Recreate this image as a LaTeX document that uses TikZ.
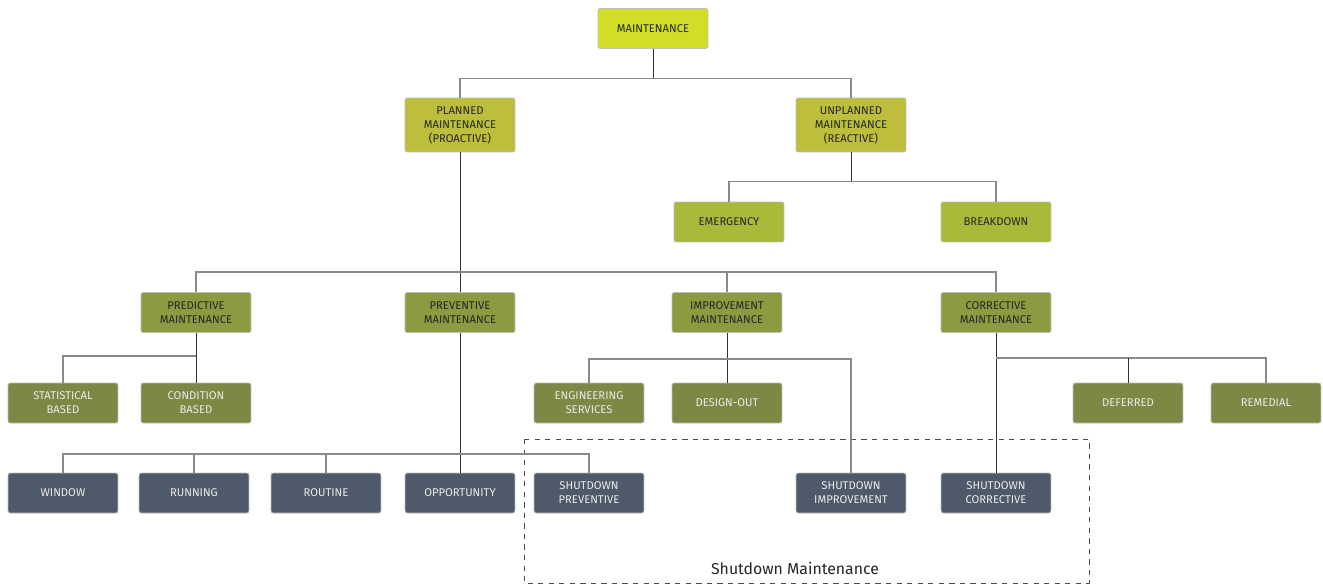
\documentclass[tikz,border=0pt]{standalone}
\usepackage{fontspec}
\setmainfont{Fira Sans}
\definecolor{cTop}{HTML}{D2DE25}
\definecolor{cOne}{HTML}{BDBE3B}
\definecolor{cTwo}{HTML}{A9BA3A}
\definecolor{cThree}{HTML}{8E9A3F}
\definecolor{cFour}{HTML}{7E8743}
\definecolor{cFive}{HTML}{4E5A69}
\definecolor{cStem}{HTML}{333333}
\definecolor{cBranch}{HTML}{8A8A8A}
\tikzset{
  box/.style={draw=black!25, line width=0.4pt, rounded corners=1.2pt,
    minimum width=2.2cm, minimum height=0.8cm, align=center,
    inner sep=1pt, font=\fontsize{6.4}{8}\selectfont},
  topbox/.style={box, fill=cTop, text=black!85},
  onebox/.style={box, fill=cOne, text=black!85, minimum height=1.08cm},
  twobox/.style={box, fill=cTwo, text=black!85},
  threebox/.style={box, fill=cThree, text=black!85},
  fourbox/.style={box, fill=cFour, text=white!92!black},
  fivebox/.style={box, fill=cFive, text=white!92!black},
  stem/.style={draw=cStem, line width=0.45pt},
  branch/.style={draw=cBranch, line width=0.7pt},
}
\begin{document}
\begin{tikzpicture}[x=0.02cm, y=-0.02cm]
  \useasboundingbox (0,0) rectangle (1323,585);

  % Shutdown frame
  \draw[dashed, draw=black!70, line width=0.5pt] (524,439) rectangle (1089,583);
  \node[font=\fontsize{9}{11}\selectfont, text=black!85] (sdlabel) at (795,568) {Shutdown Maintenance};

  % Level 0 and 1
  \node[topbox] (maint) at (653,28.5) {MAINTENANCE};
  \node[onebox] (plan) at (460,125) {PLANNED\\MAINTENANCE\\(PROACTIVE)};
  \node[onebox] (unplan) at (851,125) {UNPLANNED\\MAINTENANCE\\(REACTIVE)};

  % Reactive branch
  \node[twobox] (emer) at (729,222) {EMERGENCY};
  \node[twobox] (brk) at (996,222) {BREAKDOWN};

  % Proactive branch
  \node[threebox] (pred) at (196,312.5) {PREDICTIVE\\MAINTENANCE};
  \node[threebox] (prev) at (460,312.5) {PREVENTIVE\\MAINTENANCE};
  \node[threebox] (impr) at (727,312.5) {IMPROVEMENT\\MAINTENANCE};
  \node[threebox] (corr) at (996,312.5) {CORRECTIVE\\MAINTENANCE};

  \node[fourbox] (stat) at (63,403) {STATISTICAL\\BASED};
  \node[fourbox] (cond) at (196,403) {CONDITION\\BASED};
  \node[fourbox] (eng) at (589,403) {ENGINEERING\\SERVICES};
  \node[fourbox] (design) at (727,403) {DESIGN-OUT};
  \node[fourbox] (defer) at (1128,403) {DEFERRED};
  \node[fourbox] (remed) at (1266,403) {REMEDIAL};

  \node[fivebox] (win) at (63,493) {WINDOW};
  \node[fivebox] (run) at (194,493) {RUNNING};
  \node[fivebox] (rout) at (326,493) {ROUTINE};
  \node[fivebox] (opp) at (460,493) {OPPORTUNITY};
  \node[fivebox] (sdprev) at (589,493) {SHUTDOWN\\PREVENTIVE};
  \node[fivebox] (sdimpr) at (851,493) {SHUTDOWN\\IMPROVEMENT};
  \node[fivebox] (sdcorr) at (996,493) {SHUTDOWN\\CORRECTIVE};

  % Connectors
  \draw[stem] (maint.south) -- ++(0,30) coordinate (bMaint);
  \draw[branch] (plan.north) |- (bMaint) -| (unplan.north);

  \draw[stem] (unplan.south) -- ++(0,29) coordinate (bUnplan);
  \draw[branch] (emer.north) |- (bUnplan) -| (brk.north);

  \draw[stem] (plan.south) -- (prev.north);
  \coordinate (bPlan) at (460,272);
  \draw[branch] (pred.north) |- (bPlan) -| (corr.north);
  \draw[branch] (impr.north) -- (impr.north |- bPlan);

  \draw[stem] (pred.south) -- (cond.north);
  \coordinate (bPred) at (196,356);
  \draw[branch] (stat.north) |- (bPred);

  \draw[stem] (prev.south) -- (opp.north);
  \coordinate (bPrev) at (460,454);
  \draw[branch] (win.north) |- (bPrev) -| (sdprev.north);
  \draw[branch] (run.north) -- (run.north |- bPrev);
  \draw[branch] (rout.north) -- (rout.north |- bPrev);

  \draw[stem] (impr.south) -- (design.north);
  \coordinate (bImpr) at (727,359);
  \draw[branch] (eng.north) |- (bImpr) -| (sdimpr.north);

  \draw[stem] (corr.south) -- (sdcorr.north);
  \coordinate (bCorr) at (996,358);
  \draw[branch] (bCorr) -| (remed.north);
  \draw[stem] (defer.north) -- (defer.north |- bCorr);
\end{tikzpicture}
\end{document}
